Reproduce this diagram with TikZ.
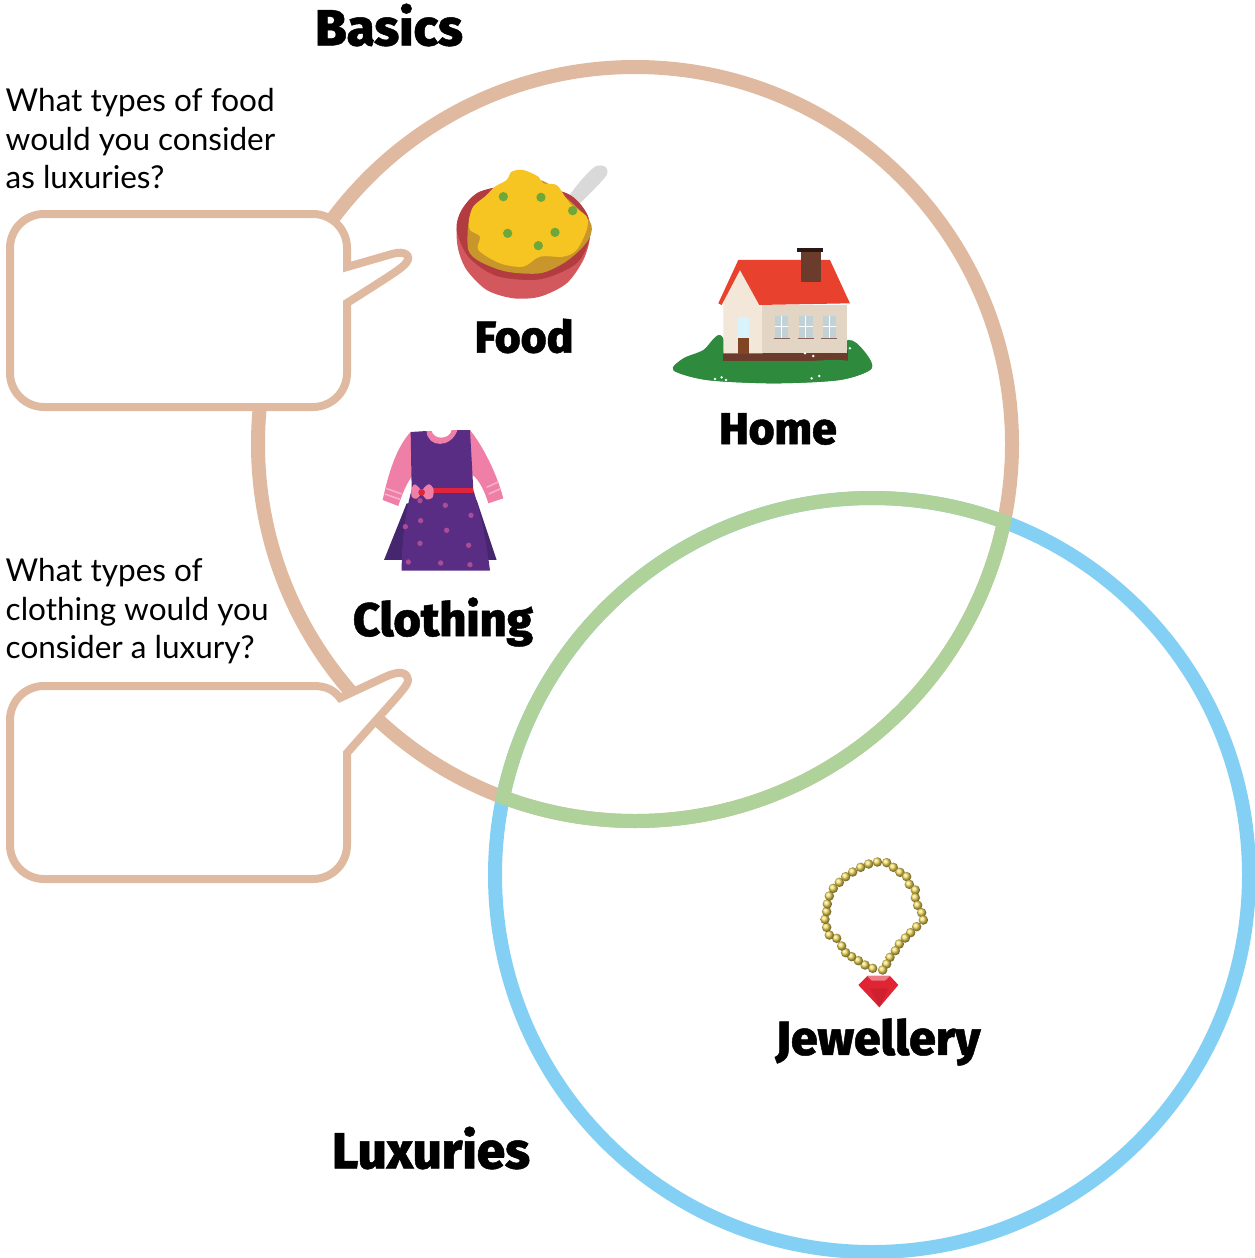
\documentclass[tikz,border=0pt]{standalone}
\usepackage{fontspec}
\setmainfont{Lato}
\newfontfamily\headfont[FakeBold=1]{Fira Sans ExtraBold}
\usepackage{xcolor}
\definecolor{ringbrown}{HTML}{DFBAA0}
\definecolor{ringblue}{HTML}{84D0F5}
\definecolor{ringgreen}{HTML}{AFD29B}
\definecolor{foodyellow}{HTML}{F6C522}
\definecolor{foodgold}{HTML}{C9962B}
\definecolor{bowlred}{HTML}{D2585E}
\definecolor{bowldark}{HTML}{B23C40}
\definecolor{peagreen}{HTML}{6FA83A}
\definecolor{roofred}{HTML}{E8412E}
\definecolor{gablewall}{HTML}{F3E7DA}
\definecolor{sidewall}{HTML}{E2D5C3}
\definecolor{brick}{HTML}{6B3B2C}
\definecolor{grass}{HTML}{2E8B3E}
\definecolor{dresspurple}{HTML}{5A2D85}
\definecolor{dressdark}{HTML}{46266E}
\definecolor{dresspink}{HTML}{F07FA8}
\definecolor{dressdot}{HTML}{A94D97}
\definecolor{beltred}{HTML}{E0243A}
\definecolor{gemred}{HTML}{E02433}
\definecolor{beadgold}{HTML}{F0D85A}
\tikzstyle{ring} = [line width=14pt]
\tikzstyle{bubble} = [draw=ringbrown,line width=8pt,fill=white,miter limit=10]
\tikzstyle{itemlabel} = [inner sep=0pt]
\tikzstyle{question} = [font=\fontsize{31.5}{38.5}\selectfont,align=left,anchor=north west,inner sep=0pt]

\begin{document}
\begin{tikzpicture}
        [
            x=1pt,y=-1pt,
            zoomed/.style={x=0.3333pt,y=-0.3333pt},
            bead/.style={circle,inner sep=0pt,minimum size=9.5pt,ball color=beadgold},
        ]
    \useasboundingbox (0,0) rectangle (1255,1258);

    % venn rings
    \draw[ring,ringbrown] (635,444) circle (377);
    \draw[ring,ringblue] (872,875) circle (377);
    \begin{scope}
        \clip (635,444) circle (384);
        \draw[ring,ringgreen] (872,875) circle (377);
    \end{scope}
    \begin{scope}
        \clip (872,875) circle (384);
        \draw[ring,ringgreen] (635,444) circle (377);
    \end{scope}

    % speech bubbles
    \draw[bubble] (44,214) -- (313,214) arc (-90:0:34) -- (347,267) -- (392,254)
        .. controls (405,250) and (412,256) .. (406,263)
        .. controls (402,268) and (396,272) .. (347,303)
        -- (347,373) arc (0:90:34) -- (44,407) arc (90:180:34) -- (10,248) arc (180:270:34) -- cycle;
    \draw[bubble] (44,686) -- (314,686) .. controls (326,686) and (334,690) .. (340,698)
        -- (385,677) .. controls (398,671) and (407,671) .. (408,680)
        .. controls (408,686) and (400,693) .. (347,753)
        -- (347,845) arc (0:90:34) -- (44,879) arc (90:180:34) -- (10,720) arc (180:270:34) -- cycle;

    % food
    \begin{scope}[shift={(440,150)},zoomed]
        \fill[gray!30] plot[smooth cycle] coordinates {(385,145) (410,165) (450,130) (500,75) (495,50) (465,50) (420,95)};
        \fill[bowlred] plot[smooth cycle] coordinates {(50,240) (65,180) (120,125) (240,105) (380,130) (440,190) (450,260) (430,330) (380,400) (300,440) (220,445) (140,420) (80,360) (55,300)};
        \fill[bowldark] plot[smooth cycle] coordinates {(50,240) (65,180) (120,125) (240,105) (380,130) (440,190) (450,260) (410,340) (300,388) (170,378) (85,320)};
        \fill[foodgold] plot[smooth cycle] coordinates {(85,220) (100,170) (135,140) (200,100) (300,90) (375,140) (450,215) (450,260) (420,300) (370,340) (300,370) (200,365) (120,335) (85,300)};
        \fill[foodyellow] plot[smooth cycle] coordinates {(88,205) (100,170) (135,140) (165,110) (200,90) (215,65) (250,60) (295,80) (310,100) (350,105) (375,140) (395,165) (440,200) (440,240) (410,300) (370,320) (300,320) (250,350) (180,340) (115,300) (120,260) (90,240)};
        \foreach \x/\y in {190/140,303/142,398/182,203/250,345/247,295/287}
            \fill[peagreen] (\x,\y) circle (14);
    \end{scope}

    % home
    \begin{scope}[shift={(440,150)},zoomed]
        \fill[grass] plot[smooth cycle] coordinates {(700,660) (730,625) (790,600) (840,555) (900,620) (1150,620) (1225,570) (1270,600) (1295,655) (1200,690) (1000,700) (800,690)};
        \fill[brick] (850,600) rectangle (1225,632);
        \fill[gablewall] (850,460) -- (895,350) -- (965,465) -- (968,610) -- (850,610) -- cycle;
        \fill[sidewall] (965,465) rectangle (1222,610);
        \fill[roofred] (895,330) -- (1170,330) -- (1230,460) -- (958,465) -- (900,360) -- (845,465) -- (835,460) -- cycle;
        \fill[brick] (1082,300) rectangle (1143,395);
        \fill[black!60!brick] (1070,293) rectangle (1150,305);
        \fill[cyan!15!white] (895,500) rectangle (928,565);
        \fill[brick!85!orange] (895,565) rectangle (928,612);
        \foreach \x in {1005,1078,1148}{
            \fill[cyan!25!gray!45!white] (\x,497) rectangle (\x+40,565);
            \draw[brick!80,line width=1pt] (\x-4,567) -- (\x+44,567);
            \draw[white,line width=1pt] (\x+20,497) -- (\x+20,565) (\x,530) -- (\x+40,530);
        }
        \fill[grass] plot[smooth cycle] coordinates {(700,660) (800,640) (1000,640) (1200,630) (1295,655) (1200,690) (1000,700) (800,690)};
        \foreach \x/\y in {825/687,845/682,858/690,1115/685,1138/678,1095/610,1120/618,1230/595}
            \fill[white] (\x,\y) circle (4);
    \end{scope}

    % clothing
    \begin{scope}[shift={(370,420)},zoomed]
        \fill[dresspink] (122,36) .. controls (80,80) and (55,160) .. (38,240) -- (85,258) .. controls (100,210) and (120,170) .. (135,160) -- cycle;
        \fill[dresspink] (300,30) .. controls (340,80) and (380,160) .. (400,235) -- (355,250) .. controls (340,200) and (320,170) .. (300,160) -- cycle;
        \draw[white!40!dresspink,line width=1.5pt] (48,205) -- (95,222) (44,222) -- (90,238) (350,202) -- (385,186) (356,222) -- (392,206);
        \fill[dressdark] (42,420) -- (110,250) -- (320,240) -- (380,420) -- cycle;
        \fill[dresspurple] (122,36) -- (170,33) .. controls (172,80) and (245,80) .. (262,30) -- (300,30) -- (310,210) .. controls (320,240) and (345,330) .. (360,452) -- (95,452) .. controls (95,350) and (110,260) .. (125,210) -- cycle;
        \fill[dresspink] (170,33) .. controls (172,85) and (245,85) .. (262,30) -- (245,30) .. controls (240,60) and (190,60) .. (185,33) -- cycle;
        \fill[beltred] (180,205) rectangle (310,220);
        \fill[dresspink] plot[smooth cycle] coordinates {(155,215) (135,193) (125,205) (125,230) (140,236)};
        \fill[dresspink] plot[smooth cycle] coordinates {(155,215) (175,193) (190,205) (188,232) (170,238)};
        \fill[beltred] (155,217) circle (10);
        \foreach \x/\y in {150/242,226/256,303/286,152/302,106/320,230/331,150/370,296/376,115/426,212/429,300/434}
            \fill[dressdot] (\x,\y) circle (8);
    \end{scope}

    % jewellery
    \begin{scope}[shift={(810,850)},zoomed]
        \foreach \x/\y in {188/355,165/345,145/332,125/320,107/308,95/288,80/265,58/255,50/232,45/208,50/185,52/162,58/138,70/115,88/97,107/80,128/66,152/52,176/42,202/36,230/38,250/52,270/67,290/80,298/103,316/120,316/143,323/166,335/188,340/210,320/230,302/248,286/264,268/282,256/302,240/322,230/342,218/360}
            \node[bead] at (\x,\y){};
        \fill[gemred] (145,405) -- (172,378) -- (240,378) -- (265,405) -- (208,472) -- cycle;
        \fill[gemred!60!white] (172,378) -- (240,378) -- (225,392) -- (185,392) -- cycle;
        \fill[gemred!92!black] (208,472) -- (180,415) -- (235,415) -- cycle;
    \end{scope}

    \node[itemlabel,font=\headfont\fontsize{51}{51}\selectfont] (basics) at (389,25){Basics};
    \node[itemlabel,font=\headfont\fontsize{51}{51}\selectfont] (luxuries) at (431,1148){Luxuries};
    \node[itemlabel,font=\headfont\fontsize{44.5}{44.5}\selectfont] (food) at (524,336){Food};
    \node[itemlabel,font=\headfont\fontsize{44.5}{44.5}\selectfont] (home) at (778,429){Home};
    \node[itemlabel,font=\headfont\fontsize{47}{47}\selectfont] (clothing) at (443,622){Clothing};
    \node[itemlabel,font=\headfont\fontsize{48}{48}\selectfont] (jewellery) at (878,1042){Jewellery};
    \node[question] (foodq) at (5.5,88.5){What types of food\\would you consider\\as luxuries?};
    \node[question] (clothq) at (5.5,558.5){What types of\\clothing would you\\consider a luxury?};
\end{tikzpicture}
\end{document}
